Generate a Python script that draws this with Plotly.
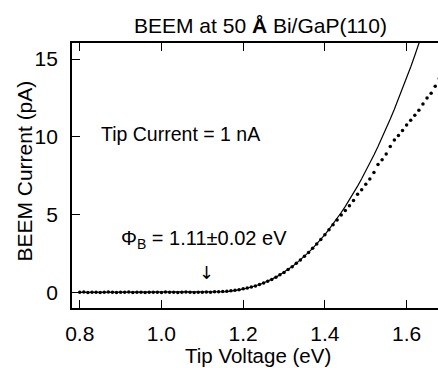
import numpy as np
import plotly.graph_objects as go

# ---- data ----
data_v = np.round(np.arange(0.80, 1.6805, 0.01), 2)
data_i = [0.0, 0.02, -0.01, 0.01, 0.0, -0.02, 0.01, 0.02, 0.0, -0.01,
          0.01, 0.0, 0.02, -0.01, 0.0, 0.01, -0.02, 0.0, 0.01, 0.0,
          -0.01, 0.02, 0.0, 0.01, -0.01, 0.0, 0.02, 0.01, -0.01, 0.0,
          0.01, 0.02, 0.0, 0.03, 0.03,
          0.05, 0.07, 0.1, 0.13, 0.17, 0.22, 0.27, 0.34, 0.41, 0.5,
          0.6, 0.71, 0.83, 0.97, 1.12, 1.28, 1.46, 1.65, 1.86, 2.07,
          2.31, 2.56, 2.83, 3.1, 3.4,
          3.7, 4.02, 4.35, 4.65, 4.97, 5.26, 5.56, 5.9, 6.3, 6.6,
          6.94, 7.28, 7.7, 8.22, 8.52, 8.9, 9.38, 9.8, 10.08, 10.4,
          10.76, 11.06, 11.38, 11.7, 12.1, 12.5, 12.8, 13.25, 13.75]

fit_v = [0.80, 1.11] + list(np.round(np.arange(1.12, 1.645, 0.01), 2))
fit_i = [0.0, 0.0,
         0.001, 0.005, 0.013, 0.026, 0.046, 0.072, 0.106, 0.149, 0.199, 0.259,
         0.329, 0.409, 0.5, 0.601, 0.714, 0.839, 0.977, 1.128, 1.29, 1.467,
         1.657, 1.861, 2.081, 2.314, 2.563, 2.827, 3.106, 3.402, 3.714, 4.042,
         4.388, 4.75, 5.13, 5.528, 5.943, 6.377, 6.829, 7.299, 7.789, 8.298,
         8.826, 9.375, 9.941, 10.53, 11.14, 11.77, 12.42, 13.09, 13.79, 14.49,
         15.23, 15.99, 16.77]

x_ticks = [0.8, 1.0, 1.2, 1.4, 1.6]
x_ticklabels = ["0.8", "1.0", "1.2", "1.4", "1.6"]
y_ticks = [0, 5, 10, 15]
y_ticklabels = ["0", "5", "10", "15"]

barrier = 1.11

FONT = "Liberation Sans, Arial, Helvetica, sans-serif"

fig = go.Figure()
fig.add_trace(go.Scatter(x=fit_v, y=fit_i, mode="lines",
                         line=dict(color="black", width=1.2),
                         showlegend=False, hoverinfo="skip"))
fig.add_trace(go.Scatter(x=data_v, y=data_i, mode="markers",
                         marker=dict(color="black", size=3.5, line=dict(width=0)),
                         showlegend=False, hoverinfo="skip"))

annotations = []
# title
annotations.append(dict(text="BEEM at 50 <b>Å</b> Bi/GaP(110)", xref="paper", yref="paper",
                        x=0.516, y=1.067, xanchor="center", yanchor="middle",
                        showarrow=False, font=dict(size=21, color="black", family=FONT)))
# x title
annotations.append(dict(text="Tip Voltage (eV)", xref="paper", yref="paper",
                        x=0.508, y=-0.18, xanchor="center", yanchor="middle",
                        showarrow=False, font=dict(size=20.5, color="black", family=FONT)))
# y title
annotations.append(dict(text="BEEM Current (pA)", xref="paper", yref="paper",
                        x=-0.131, y=0.515, xanchor="center", yanchor="middle", textangle=-90,
                        showarrow=False, font=dict(size=21, color="black", family=FONT)))
# in-plot labels
annotations.append(dict(text="Tip Current = 1 nA", xref="x", yref="y",
                        x=0.848, y=10.2, xanchor="left", yanchor="middle",
                        showarrow=False, font=dict(size=19.5, color="black", family=FONT)))
annotations.append(dict(text="Φ<sub>B</sub> = 1.11±0.02 eV", xref="x", yref="y",
                        x=0.897, y=3.4, xanchor="left", yanchor="middle",
                        showarrow=False, font=dict(size=20, color="black", family=FONT)))
annotations.append(dict(text="↓", xref="x", yref="y",
                        x=barrier, y=1.25, xanchor="center", yanchor="middle",
                        showarrow=False, font=dict(size=18, color="black", family="DejaVu Sans")))

fig.update_layout(
    width=438, height=368,
    margin=dict(l=72, r=0, t=43, b=60),
    paper_bgcolor="white", plot_bgcolor="white",
    font=dict(family=FONT, size=21, color="black"),
    annotations=annotations,
    xaxis=dict(range=[0.7811, 1.6768], tickvals=x_ticks, ticktext=x_ticklabels,
               ticks="inside", ticklen=8, tickwidth=1.2, tickcolor="black",
               showline=True, linecolor="black", linewidth=1.8, mirror="ticks",
               showgrid=False, zeroline=False, ticklabelstandoff=6,
               tickfont=dict(size=21, family=FONT, color="black")),
    yaxis=dict(range=[-1.01, 16.03], tickvals=y_ticks, ticktext=y_ticklabels,
               ticks="inside", ticklen=8, tickwidth=1.2, tickcolor="black",
               showline=True, linecolor="black", linewidth=1.8, mirror=False,
               showgrid=False, zeroline=False, ticklabelstandoff=8,
               tickfont=dict(size=21, family=FONT, color="black")),
)

fig.write_html("out.html")
